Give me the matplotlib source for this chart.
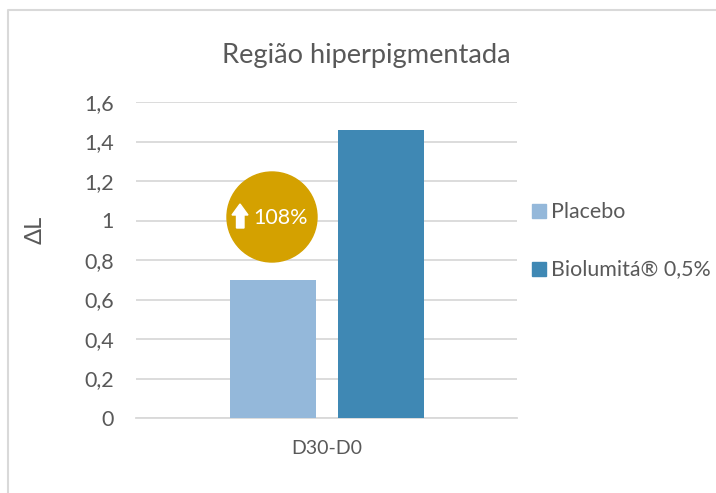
import matplotlib
matplotlib.use('Agg')
import matplotlib.pyplot as plt
from matplotlib.patches import Circle, Polygon, Rectangle
from matplotlib.transforms import Affine2D

W, H = 716, 493

title = 'Região hiperpigmentada'
category = 'D30-D0'
series_names = ['Placebo', 'Biolumitá® 0,5%']
series_values = [0.70, 1.46]
series_colors = ['#94B8DA', '#3F88B4']
tick_values = [0, 0.2, 0.4, 0.6, 0.8, 1, 1.2, 1.4, 1.6]
tick_labels = ['0', '0,2', '0,4', '0,6', '0,8', '1', '1,2', '1,4', '1,6']
badge_text = '108%'

plt.rcParams['font.family'] = ['Lato', 'DejaVu Sans']
text_color = '#595959'
grid_color = '#D9D9D9'


# pixel position from the top left corner of the image
def px():
    return Affine2D().scale(1, -1).translate(0, H)


fig = plt.figure(figsize=(W / 100, H / 100), dpi=100)
ax = fig.add_axes([136 / W, 1 - 418 / H, 381 / W, 316 / H])

# outer chart border (open on the right and bottom like the picture)
fig.add_artist(plt.Line2D([8, 8, 716], [493, 10, 10], color=grid_color, lw=1.5, transform=px()))

offsets = [-0.1405, 0.1435]
for off, name, val, col in zip(offsets, series_names, series_values, series_colors):
    ax.bar(off, val, width=0.2257, color=col, label=name, zorder=3)

ax.set_xlim(-0.5, 0.5)
ax.set_ylim(0, 1.6)
ax.set_yticks(tick_values)
ax.set_yticklabels(tick_labels, fontsize=15.5, color=text_color)
ax.set_xticks([0])
ax.set_xticklabels([category], fontsize=14, color=text_color)
ax.tick_params(length=0, pad=16, axis='y')
ax.tick_params(length=0, pad=16, axis='x')
ax.grid(axis='y', color=grid_color, lw=1.3, zorder=0)
ax.set_axisbelow(True)
for s in ax.spines.values():
    s.set_visible(False)
ax.spines['bottom'].set_visible(True)
ax.spines['bottom'].set_color(grid_color)
ax.spines['bottom'].set_linewidth(1.3)

fig.text(366 / W, 1 - 55 / H, title, fontsize=19.6, color=text_color, ha='center', va='center')
fig.text(35 / W, 1 - 230 / H, 'ΔL', fontsize=17, color=text_color, rotation=90, ha='center', va='center')

# badge with arrow
fig.add_artist(Circle((272, 217), 45, color='#D4A100', transform=px(), zorder=5))
arrow = [(240, 204), (232, 215), (236.5, 215), (236.5, 228), (244, 228), (244, 215), (248, 215)]
fig.add_artist(Polygon(arrow, closed=True, color='white', transform=px(), zorder=6))
fig.text(281 / W, 1 - 218 / H, badge_text, fontsize=15.5, color='white',
         ha='center', va='center', zorder=7)

# legend
legend_y = [211, 269]
for y, name, col in zip(legend_y, series_names, series_colors):
    fig.add_artist(Rectangle((532, y - 7), 14, 14, color=col, transform=px()))
    fig.text(551 / W, 1 - (y + 0.5) / H, name, fontsize=15.4, color=text_color, ha='left', va='center')

fig.savefig('out.png', dpi=100)
